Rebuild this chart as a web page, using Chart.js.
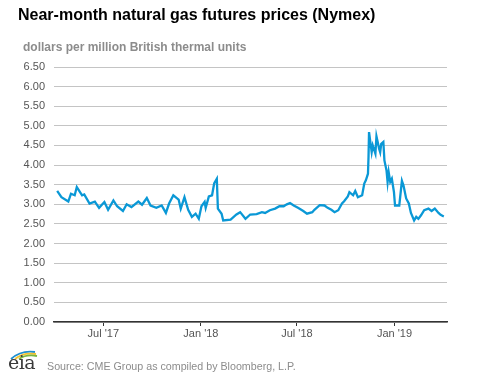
<!DOCTYPE html>
<html>
<head>
<meta charset="utf-8">
<script src="https://cdn.jsdelivr.net/npm/chart.js@4"></script>
<style>
  body { margin: 0; background: #fff; }
  #wrap { position: relative; width: 477px; height: 379px; overflow: hidden; }
  #box { position: absolute; left: 0; top: 0; width: 477px; height: 379px; }
  .txt { position: absolute; font-family: "Liberation Sans", Arial, sans-serif; white-space: nowrap; }
  #title { left: 18px; top: 6px; font-size: 16px; font-weight: bold; color: #000; }
  #subtitle { left: 23px; top: 40px; font-size: 12px; font-weight: bold; color: #8c8c8c; }
  #source { left: 47px; top: 360px; font-size: 10.7px; color: #8c8c8c; }
  #logo { left: 8px; top: 351px; font-family: "DejaVu Serif", serif; font-size: 19px; color: #3a3a3a; letter-spacing: -0.5px; }
  #arcs { position: absolute; left: 9px; top: 348px; }
</style>
</head>
<body>
<div id="wrap">
  <div id="box"><canvas id="lineChart"></canvas></div>
  <div class="txt" id="title">Near-month natural gas futures prices (Nymex)</div>
  <div class="txt" id="subtitle">dollars per million British thermal units</div>
  <svg id="arcs" width="30" height="12">
    <path d="M2 11 Q12 2 26 4" stroke="#1e8fd0" stroke-width="1.8" fill="none"/>
    <path d="M6 11 Q14 4 27 6" stroke="#f2c230" stroke-width="1.8" fill="none"/>
    <path d="M10 11 Q17 6 28 8" stroke="#7ab640" stroke-width="1.8" fill="none"/>
  </svg>
  <div class="txt" id="logo">eia</div>
  <div class="txt" id="source">Source: CME Group as compiled by Bloomberg, L.P.</div>
</div>
<script>
// values
var dates = [
  '2017-04-05','2017-04-13','2017-04-26','2017-05-01','2017-05-08','2017-05-12','2017-05-22','2017-05-26',
  '2017-06-05','2017-06-15','2017-06-23','2017-07-03','2017-07-10','2017-07-20','2017-07-27','2017-08-07',
  '2017-08-14','2017-08-23','2017-09-05','2017-09-12','2017-09-21','2017-09-28','2017-10-09','2017-10-19',
  '2017-10-27','2017-11-02','2017-11-10','2017-11-20','2017-11-24','2017-12-01','2017-12-08','2017-12-15',
  '2017-12-22','2017-12-28','2018-01-02','2018-01-08','2018-01-10','2018-01-16','2018-01-22','2018-01-26',
  '2018-01-31','2018-02-02','2018-02-09','2018-02-12','2018-02-26','2018-03-09','2018-03-16','2018-03-26',
  '2018-04-04','2018-04-16','2018-04-26','2018-05-02','2018-05-11','2018-05-21','2018-05-29','2018-06-06',
  '2018-06-12','2018-06-18','2018-06-25','2018-07-03','2018-07-13','2018-07-20','2018-07-30','2018-08-03',
  '2018-08-13','2018-08-22','2018-08-28','2018-09-04','2018-09-10','2018-09-17','2018-09-24','2018-09-28',
  '2018-10-05','2018-10-08','2018-10-15','2018-10-19','2018-10-24','2018-11-01','2018-11-05','2018-11-08',
  '2018-11-12','2018-11-13','2018-11-14','2018-11-19','2018-11-21','2018-11-26','2018-11-28','2018-12-03',
  '2018-12-05','2018-12-07','2018-12-11','2018-12-13','2018-12-17','2018-12-19','2018-12-21','2018-12-24',
  '2018-12-27','2018-12-31','2019-01-02','2019-01-10','2019-01-15','2019-01-18','2019-01-23','2019-01-28',
  '2019-02-01','2019-02-07','2019-02-11','2019-02-15','2019-02-20','2019-02-26','2019-03-06','2019-03-12',
  '2019-03-18','2019-03-25','2019-03-29','2019-04-04'
];
var prices = [
  3.34, 3.18, 3.07, 3.27, 3.23, 3.44, 3.23, 3.25,
  3.02, 3.07, 2.91, 3.06, 2.86, 3.10, 2.95, 2.83,
  3.00, 2.93, 3.07, 2.99, 3.16, 2.97, 2.91, 2.97,
  2.78, 3.02, 3.23, 3.12, 2.89, 3.18, 2.86, 2.68,
  2.76, 2.63, 2.95, 3.06, 2.91, 3.20, 3.23, 3.53,
  3.65, 2.89, 2.76, 2.59, 2.61, 2.74, 2.80, 2.63,
  2.74, 2.75, 2.80, 2.78, 2.85, 2.89, 2.95, 2.95,
  3.00, 3.03, 2.97, 2.91, 2.83, 2.76, 2.80, 2.86,
  2.98, 2.97, 2.91, 2.86, 2.80, 2.85, 3.02, 3.08,
  3.20, 3.31, 3.23, 3.34, 3.18, 3.23, 3.53, 3.61,
  3.78, 4.20, 4.84, 4.33, 4.50, 4.29, 4.73, 4.42,
  4.33, 4.54, 4.59, 4.12, 3.86, 3.57, 3.82, 3.57,
  3.65, 3.31, 2.97, 2.97, 3.60, 3.48, 3.15, 3.02,
  2.78, 2.59, 2.68, 2.63, 2.72, 2.85, 2.89, 2.83,
  2.89, 2.78, 2.73, 2.69
];
var tickDates = ['2017-07-01', '2018-01-01', '2018-07-01', '2019-01-01'];
var tickLabels = ["Jul '17", "Jan '18", "Jul '18", "Jan '19"];
var xStart = '2017-03-30';
var xEnd = '2019-04-10';

function toDay(s) {
  var p = s.split('-');
  return Date.UTC(+p[0], +p[1] - 1, +p[2]) / 86400000;
}

var points = [];
for (var i = 0; i < dates.length; i++) {
  points.push({ x: toDay(dates[i]), y: prices[i] });
}
var tickDays = tickDates.map(toDay);

var ctx = document.getElementById('lineChart');
var chart = new Chart(ctx, {
  type: 'line',
  data: {
    datasets: [{
      label: 'Near-month futures',
      data: points,
      borderColor: '#0a98d6',
      backgroundColor: '#0a98d6',
      borderWidth: 2.3,
      pointRadius: 0,
      fill: false,
      tension: 0
    }]
  },
  options: {
    responsive: true,
    maintainAspectRatio: false,
    animation: false,
    layout: { padding: { left: 0, right: 30, top: 67, bottom: 37 } },
    plugins: {
      legend: { display: false },
      tooltip: { enabled: false }
    },
    scales: {
      x: {
        type: 'linear',
        min: toDay(xStart),
        max: toDay(xEnd),
        afterBuildTicks: function (scale) {
          scale.ticks = tickDays.map(function (d) { return { value: d }; });
        },
        afterFit: function (scale) { scale.height = 20; },
        grid: { drawOnChartArea: false, drawTicks: true, tickLength: 4, color: '#333' },
        border: { color: '#333', width: 1.5 },
        ticks: {
          autoSkip: false,
          maxRotation: 0,
          padding: 1,
          color: '#555',
          font: { family: 'Liberation Sans', size: 11 },
          callback: function (v) {
            var k = tickDays.indexOf(v);
            return k >= 0 ? tickLabels[k] : '';
          }
        }
      },
      y: {
        min: 0,
        max: 6.5,
        afterFit: function (scale) { scale.width = 54; },
        grid: { color: '#c4c4c4', lineWidth: 1, drawTicks: false },
        border: { display: false },
        ticks: {
          stepSize: 0.5,
          padding: 9,
          color: '#555',
          font: { family: 'Liberation Sans', size: 11 },
          callback: function (v) { return v.toFixed(2); }
        }
      }
    }
  }
});
</script>
</body>
</html>
